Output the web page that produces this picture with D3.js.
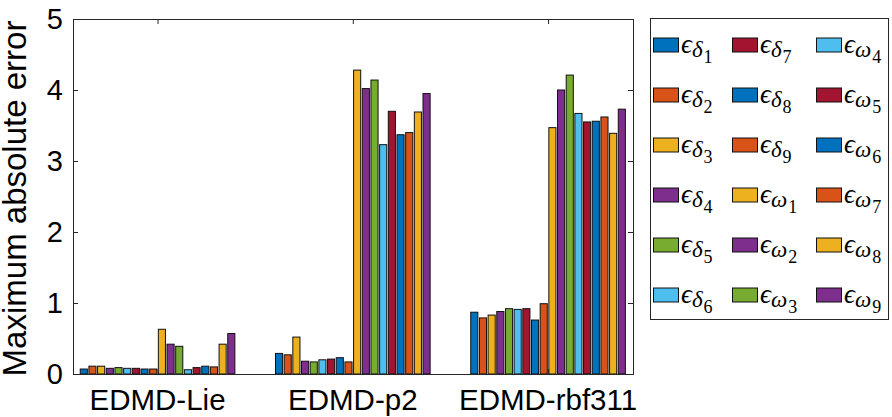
<!DOCTYPE html>
<html>
<head>
<meta charset="utf-8">
<script src="https://cdn.jsdelivr.net/npm/d3@7"></script>
<style>
  body { margin: 0; background: #fff; }
  svg { display: block; }
</style>
</head>
<body>
<div id="chart"></div>
<script>
// data
const methods = ["EDMD-Lie", "EDMD-p2", "EDMD-rbf311"];
const seriesNames = ["δ1", "δ2", "δ3", "δ4", "δ5", "δ6", "δ7", "δ8", "δ9",
                     "ω1", "ω2", "ω3", "ω4", "ω5", "ω6", "ω7", "ω8", "ω9"];
const lieVals = [0.07, 0.11, 0.11, 0.08, 0.09, 0.08, 0.08, 0.07, 0.07,
                 0.63, 0.42, 0.39, 0.06, 0.09, 0.11, 0.10, 0.42, 0.57];
const p2Vals = [0.29, 0.27, 0.52, 0.18, 0.17, 0.20, 0.21, 0.23, 0.17,
                4.28, 4.02, 4.14, 3.23, 3.70, 3.37, 3.40, 3.69, 3.95];
const rbfVals = [0.87, 0.79, 0.83, 0.88, 0.92, 0.91, 0.92, 0.76, 0.99,
                 3.47, 4.00, 4.21, 3.67, 3.55, 3.56, 3.62, 3.39, 3.73];
const yTicks = [0, 1, 2, 3, 4, 5];
const palette = ["#0072BD", "#D95319", "#EDB120", "#7E2F8E", "#77AC30", "#4DBEEE", "#A2142F"];

const allVals = [lieVals, p2Vals, rbfVals];

//size
const width = 892;
const height = 417;
const plot = { left: 73, right: 633, top: 19, bottom: 374 };

const svg = d3.select("#chart")
  .append("svg")
  .attr("width", width)
  .attr("height", height);

//scales
const xScale = d3.scaleLinear().domain([0.567, 3.435]).range([plot.left, plot.right]);
const yScale = d3.scaleLinear().domain([0, 5]).range([plot.bottom, plot.top]);
const color = (i) => palette[i % palette.length];

const nSeries = seriesNames.length;
const groupWidth = 0.8;
const slot = groupWidth / nSeries;

//bars
const bars = [];
allVals.forEach((vals, g) => {
  vals.forEach((v, i) => {
    bars.push({ group: g + 1, idx: i, value: v });
  });
});

const barLeft = (d) => xScale(d.group - groupWidth / 2 + (d.idx + 0.09) * slot);
const barRight = (d) => xScale(d.group - groupWidth / 2 + (d.idx + 0.91) * slot);

svg.append("g")
  .selectAll("rect")
  .data(bars)
  .join("rect")
  .attr("x", barLeft)
  .attr("width", (d) => barRight(d) - barLeft(d))
  .attr("y", (d) => yScale(d.value))
  .attr("height", (d) => yScale(0) - yScale(d.value))
  .attr("fill", (d) => color(d.idx))
  .attr("stroke", "#111")
  .attr("stroke-width", 1);

//axes (box on, ticks inside)
const axisColor = "#262626";
const tickFont = "'Liberation Sans', Arial, sans-serif";

svg.append("g")
  .attr("transform", `translate(${plot.left},0)`)
  .call(d3.axisRight(yScale).tickValues(yTicks).tickSize(5).tickFormat(""))
  .call((g) => g.select(".domain").remove())
  .call((g) => g.selectAll("line").attr("stroke", axisColor));

svg.append("g")
  .attr("transform", `translate(${plot.right},0)`)
  .call(d3.axisLeft(yScale).tickValues(yTicks).tickSize(5).tickFormat(""))
  .call((g) => g.select(".domain").remove())
  .call((g) => g.selectAll("line").attr("stroke", axisColor));

svg.append("g")
  .attr("transform", `translate(0,${plot.bottom})`)
  .call(d3.axisTop(xScale).tickValues([1, 2, 3]).tickSize(5).tickFormat(""))
  .call((g) => g.select(".domain").remove())
  .call((g) => g.selectAll("line").attr("stroke", axisColor));

svg.append("g")
  .attr("transform", `translate(0,${plot.top})`)
  .call(d3.axisBottom(xScale).tickValues([1, 2, 3]).tickSize(5).tickFormat(""))
  .call((g) => g.select(".domain").remove())
  .call((g) => g.selectAll("line").attr("stroke", axisColor));

svg.append("rect")
  .attr("x", plot.left + 0.5)
  .attr("y", plot.top + 0.5)
  .attr("width", plot.right - plot.left)
  .attr("height", plot.bottom - plot.top)
  .attr("fill", "none")
  .attr("stroke", axisColor)
  .attr("stroke-width", 1);

//tick labels
svg.append("g")
  .selectAll("text")
  .data(yTicks)
  .join("text")
  .attr("x", plot.left - 10)
  .attr("y", (d) => yScale(d))
  .attr("dy", "0.36em")
  .attr("text-anchor", "end")
  .attr("font-family", tickFont)
  .attr("font-size", 29)
  .attr("fill", "#000")
  .text((d) => d);

svg.append("g")
  .selectAll("text")
  .data(methods)
  .join("text")
  .attr("x", (d, i) => xScale(i + 1))
  .attr("y", 410)
  .attr("text-anchor", "middle")
  .attr("font-family", tickFont)
  .attr("font-size", 29.5)
  .attr("fill", "#000")
  .text((d) => d);

svg.append("text")
  .attr("transform", `translate(26,${(plot.top + plot.bottom) / 2 + 2}) rotate(-90)`)
  .attr("text-anchor", "middle")
  .attr("font-family", tickFont)
  .attr("font-size", 33)
  .attr("fill", "#000")
  .text("Maximum absolute error");

//legend
const legend = svg.append("g");
legend.append("rect")
  .attr("x", 650.5)
  .attr("y", 18.5)
  .attr("width", 238)
  .attr("height", 301)
  .attr("fill", "#fff")
  .attr("stroke", axisColor)
  .attr("stroke-width", 1);

const colX = [653, 732, 816];
const rowY = (r) => 45.5 + r * 50;
const mathFont = "'Liberation Serif', 'DejaVu Serif', serif";

const items = legend.selectAll("g.item")
  .data(seriesNames)
  .join("g")
  .attr("class", "item")
  .attr("transform", (d, i) => `translate(${colX[Math.floor(i / 6)]},${rowY(i % 6)})`);

items.append("rect")
  .attr("x", 0.5)
  .attr("y", -7.5)
  .attr("width", 25)
  .attr("height", 14)
  .attr("fill", (d, i) => color(i))
  .attr("stroke", "#111");

const label = items.append("text")
  .attr("x", 28)
  .attr("y", 7)
  .attr("font-family", mathFont)
  .attr("font-style", "italic")
  .attr("fill", "#000");

label.append("tspan")
  .attr("font-size", 27)
  .text("ϵ");
label.append("tspan")
  .attr("font-size", 23)
  .attr("dy", 4)
  .text((d) => d[0]);
label.append("tspan")
  .attr("font-size", 18)
  .attr("font-style", "normal")
  .attr("dx", 1)
  .attr("dy", 6)
  .text((d) => d.slice(1));
</script>
</body>
</html>
